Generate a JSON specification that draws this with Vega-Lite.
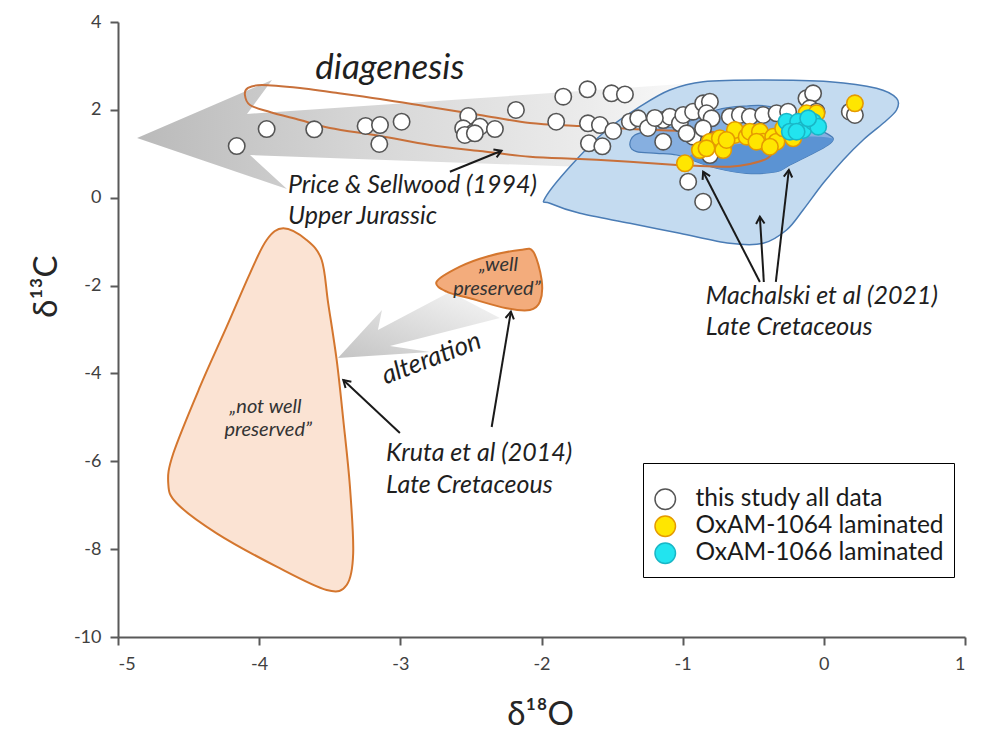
{
  "$schema": "https://vega.github.io/schema/vega-lite/v6.json",
  "width": 847,
  "height": 615,
  "autosize": "none",
  "padding": {"left": 118, "top": 22, "right": 16, "bottom": 96},
  "background": "white",
  "config": {
    "view": {"stroke": null},
    "font": "Lato",
    "axis": {
      "grid": false,
      "domainColor": "#595959",
      "domainWidth": 2,
      "tickColor": "#595959",
      "tickWidth": 2,
      "tickSize": 8,
      "labelFont": "Lato",
      "labelFontSize": 18,
      "labelColor": "#404040",
      "titleFont": "Lato",
      "titleFontSize": 33,
      "titleFontWeight": "normal",
      "titleColor": "#262626"
    }
  },
  "datasets": {
    "shapes": [
      {"shape": "blue", "i": 0, "x": -1.976, "y": -0.013},
      {"shape": "blue", "i": 1, "x": -1.799, "y": 0.706},
      {"shape": "blue", "i": 2, "x": -1.539, "y": 1.542},
      {"shape": "blue", "i": 3, "x": -1.303, "y": 2.072},
      {"shape": "blue", "i": 4, "x": -1.091, "y": 2.452},
      {"shape": "blue", "i": 5, "x": -0.855, "y": 2.641},
      {"shape": "blue", "i": 6, "x": -0.43, "y": 2.68},
      {"shape": "blue", "i": 7, "x": 0.042, "y": 2.641},
      {"shape": "blue", "i": 8, "x": 0.373, "y": 2.491},
      {"shape": "blue", "i": 9, "x": 0.515, "y": 2.263},
      {"shape": "blue", "i": 10, "x": 0.515, "y": 1.997},
      {"shape": "blue", "i": 11, "x": 0.42, "y": 1.694},
      {"shape": "blue", "i": 12, "x": 0.278, "y": 1.314},
      {"shape": "blue", "i": 13, "x": 0.137, "y": 0.859},
      {"shape": "blue", "i": 14, "x": -0.005, "y": 0.328},
      {"shape": "blue", "i": 15, "x": -0.147, "y": -0.28},
      {"shape": "blue", "i": 16, "x": -0.264, "y": -0.735},
      {"shape": "blue", "i": 17, "x": -0.43, "y": -1.038},
      {"shape": "blue", "i": 18, "x": -0.666, "y": -1.038},
      {"shape": "blue", "i": 19, "x": -1.02, "y": -0.81},
      {"shape": "blue", "i": 20, "x": -1.374, "y": -0.582},
      {"shape": "blue", "i": 21, "x": -1.728, "y": -0.355},
      {"shape": "blue", "i": 22, "x": -1.941, "y": -0.127},

      {"shape": "inner", "i": 0, "x": -1.374, "y": 1.2},
      {"shape": "inner", "i": 1, "x": -1.339, "y": 1.428},
      {"shape": "inner", "i": 2, "x": -1.209, "y": 1.542},
      {"shape": "inner", "i": 3, "x": -1.02, "y": 1.655},
      {"shape": "inner", "i": 4, "x": -0.76, "y": 1.997},
      {"shape": "inner", "i": 5, "x": -0.547, "y": 2.088},
      {"shape": "inner", "i": 6, "x": -0.382, "y": 2.072},
      {"shape": "inner", "i": 7, "x": -0.193, "y": 1.769},
      {"shape": "inner", "i": 8, "x": -0.005, "y": 1.503},
      {"shape": "inner", "i": 9, "x": 0.066, "y": 1.353},
      {"shape": "inner", "i": 10, "x": 0.03, "y": 1.2},
      {"shape": "inner", "i": 11, "x": -0.099, "y": 0.972},
      {"shape": "inner", "i": 12, "x": -0.241, "y": 0.745},
      {"shape": "inner", "i": 13, "x": -0.335, "y": 0.592},
      {"shape": "inner", "i": 14, "x": -0.547, "y": 0.556},
      {"shape": "inner", "i": 15, "x": -0.76, "y": 0.67},
      {"shape": "inner", "i": 16, "x": -0.902, "y": 0.82},
      {"shape": "inner", "i": 17, "x": -1.043, "y": 0.972},
      {"shape": "inner", "i": 18, "x": -1.185, "y": 1.011},
      {"shape": "inner", "i": 19, "x": -1.327, "y": 1.048},

      {"shape": "lobe", "i": 0, "x": -0.949, "y": 0.934},
      {"shape": "lobe", "i": 1, "x": -0.76, "y": 1.161},
      {"shape": "lobe", "i": 2, "x": -0.43, "y": 1.275},
      {"shape": "lobe", "i": 3, "x": -0.147, "y": 1.389},
      {"shape": "lobe", "i": 4, "x": 0.054, "y": 1.353},
      {"shape": "lobe", "i": 5, "x": 0.03, "y": 1.2},
      {"shape": "lobe", "i": 6, "x": -0.099, "y": 0.972},
      {"shape": "lobe", "i": 7, "x": -0.241, "y": 0.745},
      {"shape": "lobe", "i": 8, "x": -0.335, "y": 0.592},
      {"shape": "lobe", "i": 9, "x": -0.547, "y": 0.556},
      {"shape": "lobe", "i": 10, "x": -0.76, "y": 0.67},

      {"shape": "diag", "i": 0, "x": -4.865, "y": 1.359},
      {"shape": "diag", "i": 1, "x": -3.909, "y": 2.68},
      {"shape": "diag", "i": 2, "x": -4.086, "y": 1.906},
      {"shape": "diag", "i": 3, "x": -0.85, "y": 2.62},
      {"shape": "diag", "i": 4, "x": -0.85, "y": 0.6},
      {"shape": "diag", "i": 5, "x": -4.065, "y": 0.972},
      {"shape": "diag", "i": 6, "x": -3.803, "y": 0.199},

      {"shape": "alt", "i": 0, "x": -3.442, "y": -3.649},
      {"shape": "alt", "i": 1, "x": -3.13, "y": -2.556},
      {"shape": "alt", "i": 2, "x": -3.159, "y": -3.011},
      {"shape": "alt", "i": 3, "x": -2.649, "y": -2.146},
      {"shape": "alt", "i": 4, "x": -2.295, "y": -2.738},
      {"shape": "alt", "i": 5, "x": -3.074, "y": -3.375},
      {"shape": "alt", "i": 6, "x": -2.79, "y": -3.512},

      {"shape": "notwell", "i": 0, "x": -3.829, "y": -0.696},
      {"shape": "notwell", "i": 1, "x": -3.664, "y": -0.962},
      {"shape": "notwell", "i": 2, "x": -3.557, "y": -1.418},
      {"shape": "notwell", "i": 3, "x": -3.511, "y": -2.403},
      {"shape": "notwell", "i": 4, "x": -3.451, "y": -3.694},
      {"shape": "notwell", "i": 5, "x": -3.404, "y": -5.06},
      {"shape": "notwell", "i": 6, "x": -3.357, "y": -6.578},
      {"shape": "notwell", "i": 7, "x": -3.334, "y": -8.094},
      {"shape": "notwell", "i": 8, "x": -3.38, "y": -8.816},
      {"shape": "notwell", "i": 9, "x": -3.522, "y": -8.93},
      {"shape": "notwell", "i": 10, "x": -3.876, "y": -8.399},
      {"shape": "notwell", "i": 11, "x": -4.301, "y": -7.639},
      {"shape": "notwell", "i": 12, "x": -4.584, "y": -6.956},
      {"shape": "notwell", "i": 13, "x": -4.644, "y": -6.501},
      {"shape": "notwell", "i": 14, "x": -4.608, "y": -5.818},
      {"shape": "notwell", "i": 15, "x": -4.419, "y": -4.302},
      {"shape": "notwell", "i": 16, "x": -4.23, "y": -2.936},
      {"shape": "notwell", "i": 17, "x": -4.065, "y": -1.721},
      {"shape": "notwell", "i": 18, "x": -3.947, "y": -0.962},

      {"shape": "well", "i": 0, "x": -2.743, "y": -1.912},
      {"shape": "well", "i": 1, "x": -2.578, "y": -1.57},
      {"shape": "well", "i": 2, "x": -2.389, "y": -1.343},
      {"shape": "well", "i": 3, "x": -2.153, "y": -1.19},
      {"shape": "well", "i": 4, "x": -2.059, "y": -1.229},
      {"shape": "well", "i": 5, "x": -1.999, "y": -1.873},
      {"shape": "well", "i": 6, "x": -2.011, "y": -2.367},
      {"shape": "well", "i": 7, "x": -2.082, "y": -2.556},
      {"shape": "well", "i": 8, "x": -2.247, "y": -2.517},
      {"shape": "well", "i": 9, "x": -2.507, "y": -2.29},
      {"shape": "well", "i": 10, "x": -2.672, "y": -2.139},

      {"shape": "price", "i": 0, "x": -4.101, "y": 2.338},
      {"shape": "price", "i": 1, "x": -4.079, "y": 2.498},
      {"shape": "price", "i": 2, "x": -3.98, "y": 2.566},
      {"shape": "price", "i": 3, "x": -3.711, "y": 2.498},
      {"shape": "price", "i": 4, "x": -3.499, "y": 2.407},
      {"shape": "price", "i": 5, "x": -3.144, "y": 2.247},
      {"shape": "price", "i": 6, "x": -2.79, "y": 2.065},
      {"shape": "price", "i": 7, "x": -2.436, "y": 1.883},
      {"shape": "price", "i": 8, "x": -2.082, "y": 1.701},
      {"shape": "price", "i": 9, "x": -1.728, "y": 1.633},
      {"shape": "price", "i": 10, "x": -1.374, "y": 1.564},
      {"shape": "price", "i": 11, "x": -1.02, "y": 1.519},
      {"shape": "price", "i": 12, "x": -0.666, "y": 1.473},
      {"shape": "price", "i": 13, "x": -0.453, "y": 1.359},
      {"shape": "price", "i": 14, "x": -0.368, "y": 1.132},
      {"shape": "price", "i": 15, "x": -0.397, "y": 0.904},
      {"shape": "price", "i": 16, "x": -0.524, "y": 0.768},
      {"shape": "price", "i": 17, "x": -0.666, "y": 0.706},
      {"shape": "price", "i": 18, "x": -0.878, "y": 0.722},
      {"shape": "price", "i": 19, "x": -1.043, "y": 0.745},
      {"shape": "price", "i": 20, "x": -1.374, "y": 0.82},
      {"shape": "price", "i": 21, "x": -1.728, "y": 0.881},
      {"shape": "price", "i": 22, "x": -2.082, "y": 0.934},
      {"shape": "price", "i": 23, "x": -2.436, "y": 1.063},
      {"shape": "price", "i": 24, "x": -2.79, "y": 1.2},
      {"shape": "price", "i": 25, "x": -3.144, "y": 1.405},
      {"shape": "price", "i": 26, "x": -3.499, "y": 1.587},
      {"shape": "price", "i": 27, "x": -3.711, "y": 1.769},
      {"shape": "price", "i": 28, "x": -3.924, "y": 1.951},
      {"shape": "price", "i": 29, "x": -4.065, "y": 2.111}
    ],
    "points": [
      {"group": "this study all data", "x": -4.159, "y": 1.177},
      {"group": "this study all data", "x": -3.947, "y": 1.564},
      {"group": "this study all data", "x": -3.61, "y": 1.557},
      {"group": "this study all data", "x": -3.246, "y": 1.633},
      {"group": "this study all data", "x": -3.144, "y": 1.655},
      {"group": "this study all data", "x": -3.149, "y": 1.223},
      {"group": "this study all data", "x": -2.991, "y": 1.73},
      {"group": "this study all data", "x": -2.519, "y": 1.86},
      {"group": "this study all data", "x": -2.555, "y": 1.58},
      {"group": "this study all data", "x": -2.484, "y": 1.48},
      {"group": "this study all data", "x": -2.543, "y": 1.428},
      {"group": "this study all data", "x": -2.436, "y": 1.617},
      {"group": "this study all data", "x": -2.33, "y": 1.564},
      {"group": "this study all data", "x": -2.181, "y": 1.997},
      {"group": "this study all data", "x": -1.846, "y": 2.3},
      {"group": "this study all data", "x": -1.674, "y": 2.468},
      {"group": "this study all data", "x": -1.504, "y": 2.377},
      {"group": "this study all data", "x": -1.409, "y": 2.35},
      {"group": "this study all data", "x": -1.896, "y": 1.73},
      {"group": "this study all data", "x": -1.671, "y": 1.694},
      {"group": "this study all data", "x": -1.586, "y": 1.655},
      {"group": "this study all data", "x": -1.492, "y": 1.519},
      {"group": "this study all data", "x": -1.664, "y": 1.239},
      {"group": "this study all data", "x": -1.569, "y": 1.171},
      {"group": "this study all data", "x": -2.472, "y": 1.466},
      {"group": "this study all data", "x": -1.374, "y": 1.73},
      {"group": "this study all data", "x": -1.315, "y": 1.808},
      {"group": "this study all data", "x": -1.138, "y": 1.275},
      {"group": "this study all data", "x": -1.138, "y": 1.769},
      {"group": "this study all data", "x": -1.091, "y": 1.844},
      {"group": "this study all data", "x": -1.02, "y": 1.694},
      {"group": "this study all data", "x": -0.996, "y": 1.883},
      {"group": "this study all data", "x": -0.926, "y": 1.958},
      {"group": "this study all data", "x": -0.855, "y": 2.149},
      {"group": "this study all data", "x": -0.807, "y": 2.186},
      {"group": "this study all data", "x": -0.831, "y": 1.922},
      {"group": "this study all data", "x": -0.795, "y": 1.808},
      {"group": "this study all data", "x": -0.926, "y": 1.389},
      {"group": "this study all data", "x": -0.855, "y": 1.58},
      {"group": "this study all data", "x": -0.972, "y": 1.466},
      {"group": "this study all data", "x": -0.807, "y": 0.972},
      {"group": "this study all data", "x": -0.961, "y": 0.365},
      {"group": "this study all data", "x": -0.855, "y": -0.091},
      {"group": "this study all data", "x": -0.666, "y": 1.844},
      {"group": "this study all data", "x": -0.595, "y": 1.883},
      {"group": "this study all data", "x": -0.524, "y": 1.844},
      {"group": "this study all data", "x": -0.43, "y": 1.883},
      {"group": "this study all data", "x": -0.335, "y": 1.922},
      {"group": "this study all data", "x": -0.253, "y": 1.958},
      {"group": "this study all data", "x": -0.123, "y": 2.263},
      {"group": "this study all data", "x": -0.076, "y": 2.377},
      {"group": "this study all data", "x": -0.099, "y": 2.035},
      {"group": "this study all data", "x": 0.184, "y": 1.958},
      {"group": "this study all data", "x": 0.22, "y": 1.883},
      {"group": "this study all data", "x": -0.052, "y": 1.958},
      {"group": "this study all data", "x": -1.246, "y": 1.587},
      {"group": "this study all data", "x": -1.197, "y": 1.815},
      {"group": "OxAM-1064 laminated", "x": -0.984, "y": 0.784},
      {"group": "OxAM-1064 laminated", "x": -0.878, "y": 1.086},
      {"group": "OxAM-1064 laminated", "x": -0.807, "y": 1.275},
      {"group": "OxAM-1064 laminated", "x": -0.737, "y": 1.353},
      {"group": "OxAM-1064 laminated", "x": -0.713, "y": 1.086},
      {"group": "OxAM-1064 laminated", "x": -0.63, "y": 1.428},
      {"group": "OxAM-1064 laminated", "x": -0.63, "y": 1.542},
      {"group": "OxAM-1064 laminated", "x": -0.547, "y": 1.389},
      {"group": "OxAM-1064 laminated", "x": -0.524, "y": 1.503},
      {"group": "OxAM-1064 laminated", "x": -0.453, "y": 1.503},
      {"group": "OxAM-1064 laminated", "x": -0.43, "y": 1.275},
      {"group": "OxAM-1064 laminated", "x": -0.359, "y": 1.389},
      {"group": "OxAM-1064 laminated", "x": -0.335, "y": 1.275},
      {"group": "OxAM-1064 laminated", "x": -0.217, "y": 1.353},
      {"group": "OxAM-1064 laminated", "x": -0.288, "y": 1.58},
      {"group": "OxAM-1064 laminated", "x": -0.123, "y": 1.922},
      {"group": "OxAM-1064 laminated", "x": -0.052, "y": 1.922},
      {"group": "OxAM-1064 laminated", "x": 0.22, "y": 2.149},
      {"group": "OxAM-1064 laminated", "x": -0.831, "y": 1.125},
      {"group": "OxAM-1064 laminated", "x": -0.689, "y": 1.314},
      {"group": "OxAM-1064 laminated", "x": -0.477, "y": 1.275},
      {"group": "OxAM-1064 laminated", "x": -0.382, "y": 1.161},
      {"group": "OxAM-1066 laminated", "x": -0.264, "y": 1.73},
      {"group": "OxAM-1066 laminated", "x": -0.182, "y": 1.73},
      {"group": "OxAM-1066 laminated", "x": -0.241, "y": 1.503},
      {"group": "OxAM-1066 laminated", "x": -0.147, "y": 1.542},
      {"group": "OxAM-1066 laminated", "x": -0.076, "y": 1.73},
      {"group": "OxAM-1066 laminated", "x": -0.04, "y": 1.617},
      {"group": "OxAM-1066 laminated", "x": -0.111, "y": 1.808},
      {"group": "OxAM-1066 laminated", "x": -0.193, "y": 1.503}
    ],
    "arrows": [
      {"x": -2.283, "y": 1.07, "x2": -2.649, "y2": 0.592},
      {"x": -0.855, "y": 0.592, "x2": -0.453, "y2": -1.918},
      {"x": -0.453, "y": -0.432, "x2": -0.425, "y2": -1.918},
      {"x": -0.248, "y": 0.631, "x2": -0.34, "y2": -1.918},
      {"x": -3.404, "y": -4.149, "x2": -3.003, "y2": -5.356},
      {"x": -2.217, "y": -2.595, "x2": -2.353, "y2": -5.219}
    ],
    "labels": [
      {"kind": "big", "t": "diagenesis", "x": -3.074, "y": 2.953},
      {"kind": "ann", "t": "Price & Sellwood (1994)", "x": -3.796, "y": 0.29},
      {"kind": "ann", "t": "Upper Jurassic", "x": -3.796, "y": -0.416},
      {"kind": "ann", "t": "Machalski et al (2021)", "x": -0.836, "y": -2.237},
      {"kind": "ann", "t": "Late Cretaceous", "x": -0.836, "y": -2.943},
      {"kind": "ann", "t": "Kruta et al (2014)", "x": -3.102, "y": -5.811},
      {"kind": "ann", "t": "Late Cretaceous", "x": -3.102, "y": -6.539},
      {"kind": "small", "t": "„well", "x": -2.305, "y": -1.532},
      {"kind": "small", "t": "preserved”", "x": -2.316, "y": -2.078},
      {"kind": "small", "t": "„not well", "x": -3.955, "y": -4.757},
      {"kind": "small", "t": "preserved”", "x": -3.936, "y": -5.288},
      {"kind": "alt", "t": "alteration", "x": -2.78, "y": -3.66}
    ]
  },
  "encoding": {
    "x": {
      "field": "x",
      "type": "quantitative",
      "scale": {"domain": [-5, 1], "nice": false, "zero": false},
      "axis": {
        "title": "δ¹⁸O",
        "values": [-5, -4, -3, -2, -1, 0, 1],
        "labelExpr": "toString(datum.value)",
        "labelPadding": 10,
        "titleBaseline": "middle",
        "titleY": 77,
        "titleX": 422
      }
    },
    "y": {
      "field": "y",
      "type": "quantitative",
      "scale": {"domain": [-10, 4], "nice": false, "zero": false},
      "axis": {
        "title": "δ¹³C",
        "values": [-10, -8, -6, -4, -2, 0, 2, 4],
        "labelExpr": "toString(datum.value)",
        "labelPadding": 9,
        "titleBaseline": "middle",
        "titleAlign": "center",
        "titleX": -72,
        "titleY": 264
      }
    }
  },
  "layer": [
    {
      "data": {"name": "shapes"},
      "transform": [{"filter": "datum.shape === 'diag'"}],
      "mark": {
        "type": "line",
        "interpolate": "linear-closed",
        "strokeWidth": 0,
        "fill": {
          "gradient": "linear",
          "x1": 0, "y1": 0, "x2": 1, "y2": 0,
          "stops": [
            {"offset": 0, "color": "#bababa"},
            {"offset": 0.4, "color": "#d6d6d6"},
            {"offset": 0.8, "color": "#ececec"},
            {"offset": 1, "color": "#fbfbfb"}
          ]
        }
      },
      "encoding": {"order": {"field": "i", "type": "quantitative"}}
    },
    {
      "data": {"name": "shapes"},
      "transform": [{"filter": "datum.shape === 'blue'"}],
      "mark": {"type": "line", "interpolate": "cardinal-closed", "fill": "#c4dbf0", "stroke": "#4a7cb5", "strokeWidth": 1.5},
      "encoding": {"order": {"field": "i", "type": "quantitative"}}
    },
    {
      "data": {"name": "shapes"},
      "transform": [{"filter": "datum.shape === 'inner'"}],
      "mark": {"type": "line", "interpolate": "cardinal-closed", "fill": "#86afe0", "stroke": "#4a7cb5", "strokeWidth": 1.2},
      "encoding": {"order": {"field": "i", "type": "quantitative"}}
    },
    {
      "data": {"name": "shapes"},
      "transform": [{"filter": "datum.shape === 'lobe'"}],
      "mark": {"type": "line", "interpolate": "cardinal-closed", "fill": "#5b93d3", "strokeWidth": 0},
      "encoding": {"order": {"field": "i", "type": "quantitative"}}
    },
    {
      "data": {"name": "shapes"},
      "transform": [{"filter": "datum.shape === 'alt'"}],
      "mark": {
        "type": "line",
        "interpolate": "linear-closed",
        "strokeWidth": 0,
        "fill": {
          "gradient": "linear",
          "x1": 0, "y1": 1, "x2": 1, "y2": 0,
          "stops": [
            {"offset": 0, "color": "#c4c4c4"},
            {"offset": 1, "color": "#f7f7f7"}
          ]
        }
      },
      "encoding": {"order": {"field": "i", "type": "quantitative"}}
    },
    {
      "data": {"name": "shapes"},
      "transform": [{"filter": "datum.shape === 'notwell'"}],
      "mark": {"type": "line", "interpolate": "cardinal-closed", "fill": "#fbe3d3", "stroke": "#d4762e", "strokeWidth": 2},
      "encoding": {"order": {"field": "i", "type": "quantitative"}}
    },
    {
      "data": {"name": "shapes"},
      "transform": [{"filter": "datum.shape === 'well'"}],
      "mark": {"type": "line", "interpolate": "cardinal-closed", "fill": "#f3ac7c", "stroke": "#d4762e", "strokeWidth": 2},
      "encoding": {"order": {"field": "i", "type": "quantitative"}}
    },
    {
      "data": {"name": "shapes"},
      "transform": [{"filter": "datum.shape === 'price'"}],
      "mark": {"type": "line", "interpolate": "cardinal-closed", "stroke": "#c8703a", "strokeWidth": 2},
      "encoding": {"order": {"field": "i", "type": "quantitative"}}
    },
    {
      "data": {"name": "points"},
      "mark": {"type": "circle", "size": 270, "opacity": 1, "strokeWidth": 1.6},
      "encoding": {
        "fill": {
          "field": "group",
          "type": "nominal",
          "title": " ",
          "scale": {
            "domain": ["this study all data", "OxAM-1064 laminated", "OxAM-1066 laminated"],
            "range": ["#ffffff", "#ffe600", "#22e4ef"]
          },
          "legend": {
            "orient": "none",
            "legendX": 525,
            "legendY": 441,
            "padding": 10,
            "strokeColor": "#000000",
            "symbolType": "circle",
            "symbolSize": 420,
            "symbolStrokeWidth": 1.5,
            "labelFont": "Lato",
            "labelFontSize": 24.5,
            "labelColor": "#1a1a1a",
            "labelLimit": 0,
            "labelOffset": 18,
            "rowPadding": 0,
            "titleFontSize": 14,
            "titlePadding": 0
          }
        },
        "stroke": {
          "field": "group",
          "type": "nominal",
          "title": " ",
          "scale": {
            "domain": ["this study all data", "OxAM-1064 laminated", "OxAM-1066 laminated"],
            "range": ["#555555", "#e59a00", "#19b6c6"]
          }
        }
      }
    },
    {
      "data": {"name": "arrows"},
      "mark": {"type": "rule", "stroke": "#1a1a1a", "strokeWidth": 2},
      "encoding": {
        "x2": {"field": "x2"},
        "y2": {"field": "y2"}
      }
    },
    {
      "data": {"name": "arrows"},
      "transform": [
        {"calculate": "atan2((datum.x - datum.x2) * 141.17, (datum.y - datum.y2) * 43.93) * 180 / PI", "as": "angle"}
      ],
      "mark": {"type": "point", "shape": "M-0.6,1L0,0L0.6,1", "filled": false, "stroke": "#1a1a1a", "strokeWidth": 2, "size": 200, "opacity": 1},
      "encoding": {
        "angle": {"field": "angle", "type": "quantitative", "scale": null}
      }
    },
    {
      "data": {"name": "labels"},
      "transform": [{"filter": "datum.kind === 'big'"}],
      "mark": {"type": "text", "font": "Lato", "fontStyle": "italic", "fontSize": 35, "color": "#1f1f1f", "align": "center", "baseline": "middle"},
      "encoding": {"text": {"field": "t"}}
    },
    {
      "data": {"name": "labels"},
      "transform": [{"filter": "datum.kind === 'ann'"}],
      "mark": {"type": "text", "font": "Lato", "fontStyle": "italic", "fontSize": 25, "color": "#1f1f1f", "align": "left", "baseline": "middle"},
      "encoding": {"text": {"field": "t"}}
    },
    {
      "data": {"name": "labels"},
      "transform": [{"filter": "datum.kind === 'small'"}],
      "mark": {"type": "text", "font": "Lato", "fontStyle": "italic", "fontSize": 20, "color": "#333333", "align": "center", "baseline": "middle"},
      "encoding": {"text": {"field": "t"}}
    },
    {
      "data": {"name": "labels"},
      "transform": [{"filter": "datum.kind === 'alt'"}],
      "mark": {"type": "text", "font": "Lato", "fontStyle": "italic", "fontSize": 26, "color": "#1f1f1f", "align": "center", "baseline": "middle", "angle": -21},
      "encoding": {"text": {"field": "t"}}
    }
  ]
}
